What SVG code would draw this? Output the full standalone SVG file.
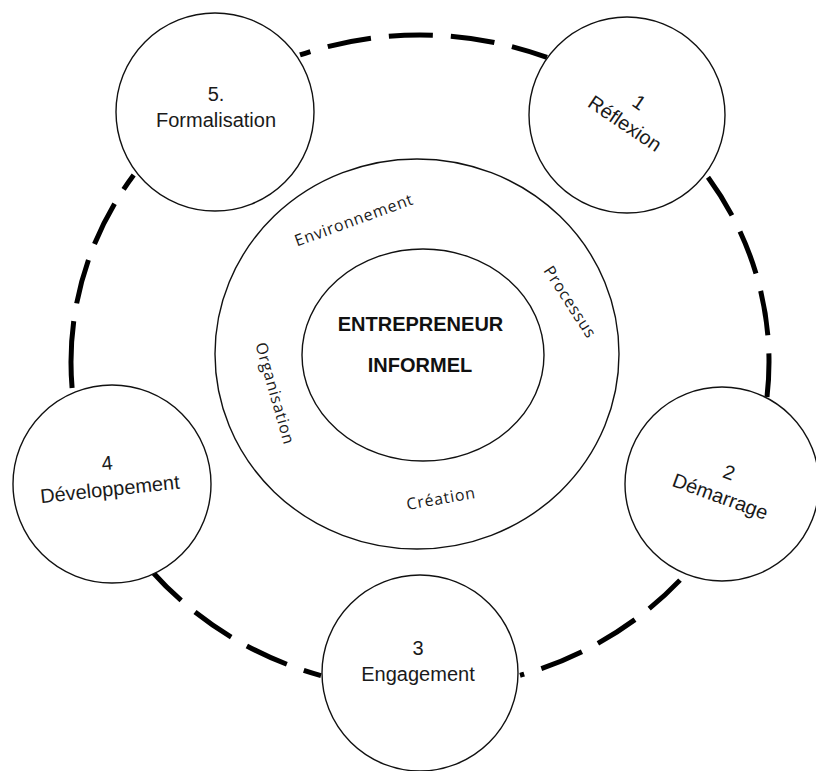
<svg xmlns="http://www.w3.org/2000/svg" width="816" height="771" viewBox="0 0 816 771">
<style>
.bg{fill:#ffffff}
.node{fill:#ffffff;stroke:#111111;stroke-width:1.4}
.ring{fill:none;stroke:#111111;stroke-width:1.4}
.dash{fill:none;stroke:#000000;stroke-width:5;stroke-linecap:butt}
.lbl{font-family:"Liberation Sans",Arial,sans-serif;font-size:20px;fill:#1a1a1a;text-anchor:middle}
.core{font-family:"Liberation Sans",Arial,sans-serif;font-size:20px;font-weight:bold;fill:#111111;text-anchor:middle}
.dim{font-family:"Open Sans","Noto Sans",sans-serif;font-size:16px;letter-spacing:0.8px;fill:#1a1a1a;text-anchor:middle}
</style>
<rect class="bg" x="0" y="0" width="816" height="771"/>
<g id="connectors">
  <path class="dash" d="M 300 54.94 A 349 327 0 0 1 547 57.42" stroke-dasharray="44 18" stroke-dashoffset="33"/>
  <path class="dash" d="M 708 177.31 A 349 327 0 0 1 767 396.96" stroke-dasharray="45 18" stroke-dashoffset="0"/>
  <path class="dash" d="M 680 580.13 A 349 327 0 0 1 520 675.29" stroke-dasharray="44 18" stroke-dashoffset="2"/>
  <path class="dash" d="M 321 675.57 A 349 327 0 0 1 152 571.48" stroke-dasharray="44 18" stroke-dashoffset="26"/>
  <path class="dash" d="M 72.1 388 A 349 327 0 0 1 133.7 175" stroke-dasharray="67 18 45 17 45 17 45 17"/>
</g>
<g id="environment">
  <ellipse class="ring" cx="417" cy="354" rx="202" ry="195"/>
  <text class="dim" transform="translate(354 220) rotate(-20)" x="0" y="5.5">Environnement</text>
  <text class="dim" transform="translate(570 302) rotate(57)" x="0" y="5.5">Processus</text>
  <text class="dim" transform="translate(275 393.5) rotate(74)" x="0" y="5.5">Organisation</text>
  <text class="dim" transform="translate(441 498.5) rotate(-10)" x="0" y="5.5">Création</text>
</g>
<g id="entrepreneur">
  <ellipse class="ring" cx="423" cy="355" rx="121" ry="106"/>
  <text class="core" x="420.5" y="331">ENTREPRENEUR</text>
  <text class="core" x="420" y="371.5">INFORMEL</text>
</g>
<g id="node1">
  <circle class="node" cx="627" cy="115" r="98"/>
  <g transform="translate(632 113) rotate(34)">
    <text class="lbl" x="0" y="-6">1</text>
    <text class="lbl" x="0" y="19.5">Réflexion</text>
  </g>
</g>
<g id="node2">
  <circle class="node" cx="722" cy="484" r="97"/>
  <g transform="translate(724.5 485) rotate(20)">
    <text class="lbl" x="0" y="-6.5">2</text>
    <text class="lbl" x="0" y="19">Démarrage</text>
  </g>
</g>
<g id="node3">
  <circle class="node" cx="420" cy="673" r="98"/>
  <text class="lbl" x="418" y="655">3</text>
  <text class="lbl" x="418" y="681">Engagement</text>
</g>
<g id="node4">
  <circle class="node" cx="112" cy="484" r="99"/>
  <g transform="translate(108.5 476.5) rotate(-6)">
    <text class="lbl" x="0" y="-6.5">4</text>
    <text class="lbl" x="0" y="19.5">Développement</text>
  </g>
</g>
<g id="node5">
  <circle class="node" cx="215" cy="112" r="99"/>
  <text class="lbl" x="216" y="101">5.</text>
  <text class="lbl" x="216" y="127">Formalisation</text>
</g>
</svg>
